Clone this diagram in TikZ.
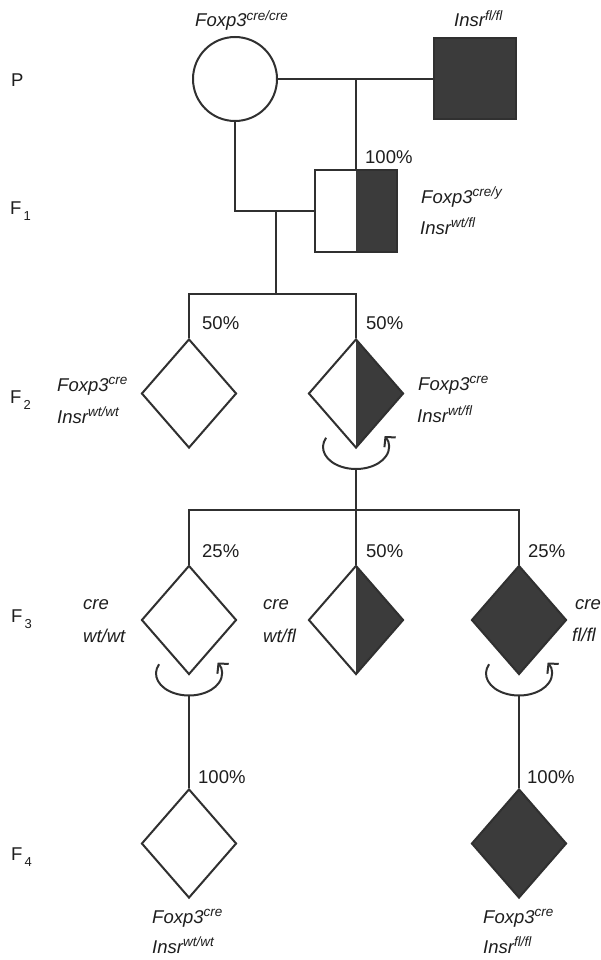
\documentclass[tikz,border=0pt]{standalone}
\usepackage{fontspec}
\setmainfont{Liberation Sans}
\usetikzlibrary{shapes.geometric,arrows.meta}

\definecolor{inkline}{HTML}{303030}
\definecolor{inkfill}{HTML}{3B3B3B}
\definecolor{inktext}{HTML}{1E1E1E}

% italic gene name with a raised allele
\newcommand{\genotype}[2]{\itshape #1\raisebox{6.5pt}{\fontsize{13.5}{14}\selectfont #2}}
% generation label F with a lowered index
\newcommand{\filialgen}[1]{F\raisebox{-6pt}{\fontsize{13}{13}\selectfont\,#1}}

\begin{document}
\begin{tikzpicture}[x=1pt,y=-1pt,
  wire/.style={draw=inkline, line width=2pt},
  person/.style={draw=inkline, line width=2pt, inner sep=0pt, fill=white},
  unk/.style={person, diamond, minimum width=95pt, minimum height=109pt},
  halfdark/.style={path picture={\fill[inkfill] (path picture bounding box.north)
      -- (path picture bounding box.east) -- (path picture bounding box.south) -- cycle;}},
  halfsq/.style={path picture={\fill[inkfill] (path picture bounding box.north)
      rectangle (path picture bounding box.south east);}},
  selfcross/.style={draw=inkline, line width=2pt, -{Straight Barb[length=7pt,width=15pt]}},
  lbl/.style={anchor=base west, inner sep=0pt, text=inktext, font=\fontsize{18.5}{20}\selectfont},
]
\useasboundingbox[fill=white] (0,0) rectangle (601,960);

% ---- individuals ----
\node[person, circle, minimum size=84pt] (mom) at (235,79) {};
\node[person, rectangle, minimum width=82pt, minimum height=81pt, fill=inkfill] (dad) at (475,79) {};
\node[person, rectangle, minimum width=82pt, minimum height=81pt, halfsq] (son) at (356,211) {};
\node[unk] (a) at (189,393.5) {};
\node[unk, halfdark] (b) at (356,393.5) {};
\node[unk] (c) at (189,620) {};
\node[unk, halfdark] (d) at (356,620) {};
\node[unk, fill=inkfill] (e) at (519,620) {};
\node[unk] (g) at (189,843.5) {};
\node[unk, fill=inkfill] (h) at (519,843.5) {};

% ---- P to F1 ----
\coordinate (mate) at (mom.east -| son.north);
\draw[wire] (mom.east) -- (dad.west);
\draw[wire] (mate) -- (son.north);
\draw[wire] (mom.south) |- (son.west);

% ---- F1 to F2 ----
\coordinate (sib1) at (276,211);
\coordinate (bar2) at (276,294);
\draw[wire] (sib1) -- (bar2);
\draw[wire] (a.north) -- (a.north |- bar2) -- (b.north |- bar2) -- (b.north);

% ---- F2 intercross to F3 ----
\draw[selfcross] ([shift={(-29.9,-11.3)}]b.south) arc[start angle=205,end angle=-30,x radius=33,y radius=22];
\coordinate (bbot) at ([shift={(0,20)}]b.south);
\coordinate (bar3) at (356,510);
\draw[wire] (bbot) -- (d.north);
\draw[wire] (c.north) -- (c.north |- bar3) -- (e.north |- bar3) -- (e.north);

% ---- F3 intercrosses to F4 ----
\draw[selfcross] ([shift={(-29.9,-11.3)}]c.south) arc[start angle=205,end angle=-30,x radius=33,y radius=22];
\coordinate (cbot) at ([shift={(0,20)}]c.south);
\draw[wire] (cbot) -- (g.north);
\draw[selfcross] ([shift={(-29.9,-11.3)}]e.south) arc[start angle=205,end angle=-30,x radius=33,y radius=22];
\coordinate (ebot) at ([shift={(0,20)}]e.south);
\draw[wire] (ebot) -- (h.north);

% ---- generation labels ----
\node[lbl] (genP) at (11,87) {P};
\node[lbl] (gen1) at (10,214) {\filialgen{1}};
\node[lbl] (gen2) at (10,403) {\filialgen{2}};
\node[lbl] (gen3) at (11,622) {\filialgen{3}};
\node[lbl] (gen4) at (11,860) {\filialgen{4}};

% ---- genotypes ----
\node[lbl] (tmom) at (195,27) {\genotype{Foxp3}{cre/cre}};
\node[lbl] (tdad) at (454,27) {\genotype{Insr}{fl/fl}};
\node[lbl] (tson1) at (421,203) {\genotype{Foxp3}{cre/y}};
\node[lbl] (tson2) at (420,234) {\genotype{Insr}{wt/fl}};
\node[lbl] (ta1) at (57,391) {\genotype{Foxp3}{cre}};
\node[lbl] (ta2) at (57,423) {\genotype{Insr}{wt/wt}};
\node[lbl] (tb1) at (418,390) {\genotype{Foxp3}{cre}};
\node[lbl] (tb2) at (417,422) {\genotype{Insr}{wt/fl}};
\node[lbl] (tc1) at (83,609) {\itshape cre};
\node[lbl] (tc2) at (83,642) {\itshape wt/wt};
\node[lbl] (td1) at (263,609) {\itshape cre};
\node[lbl] (td2) at (263,642) {\itshape wt/fl};
\node[lbl] (te1) at (575,609) {\itshape cre};
\node[lbl] (te2) at (572,641) {\itshape fl/fl};
\node[lbl] (tg1) at (152,923) {\genotype{Foxp3}{cre}};
\node[lbl] (tg2) at (152,953) {\genotype{Insr}{wt/wt}};
\node[lbl] (th1) at (483,923) {\genotype{Foxp3}{cre}};
\node[lbl] (th2) at (483,953) {\genotype{Insr}{fl/fl}};

% ---- ratios ----
\node[lbl] (pson) at (365,164) {100\%};
\node[lbl] (pa) at (202,329) {50\%};
\node[lbl] (pb) at (366,329) {50\%};
\node[lbl] (pc) at (202,557) {25\%};
\node[lbl] (pd) at (366,557) {50\%};
\node[lbl] (pe) at (528,557) {25\%};
\node[lbl] (pg) at (198,783) {100\%};
\node[lbl] (ph) at (527,783) {100\%};
\end{tikzpicture}
\end{document}
